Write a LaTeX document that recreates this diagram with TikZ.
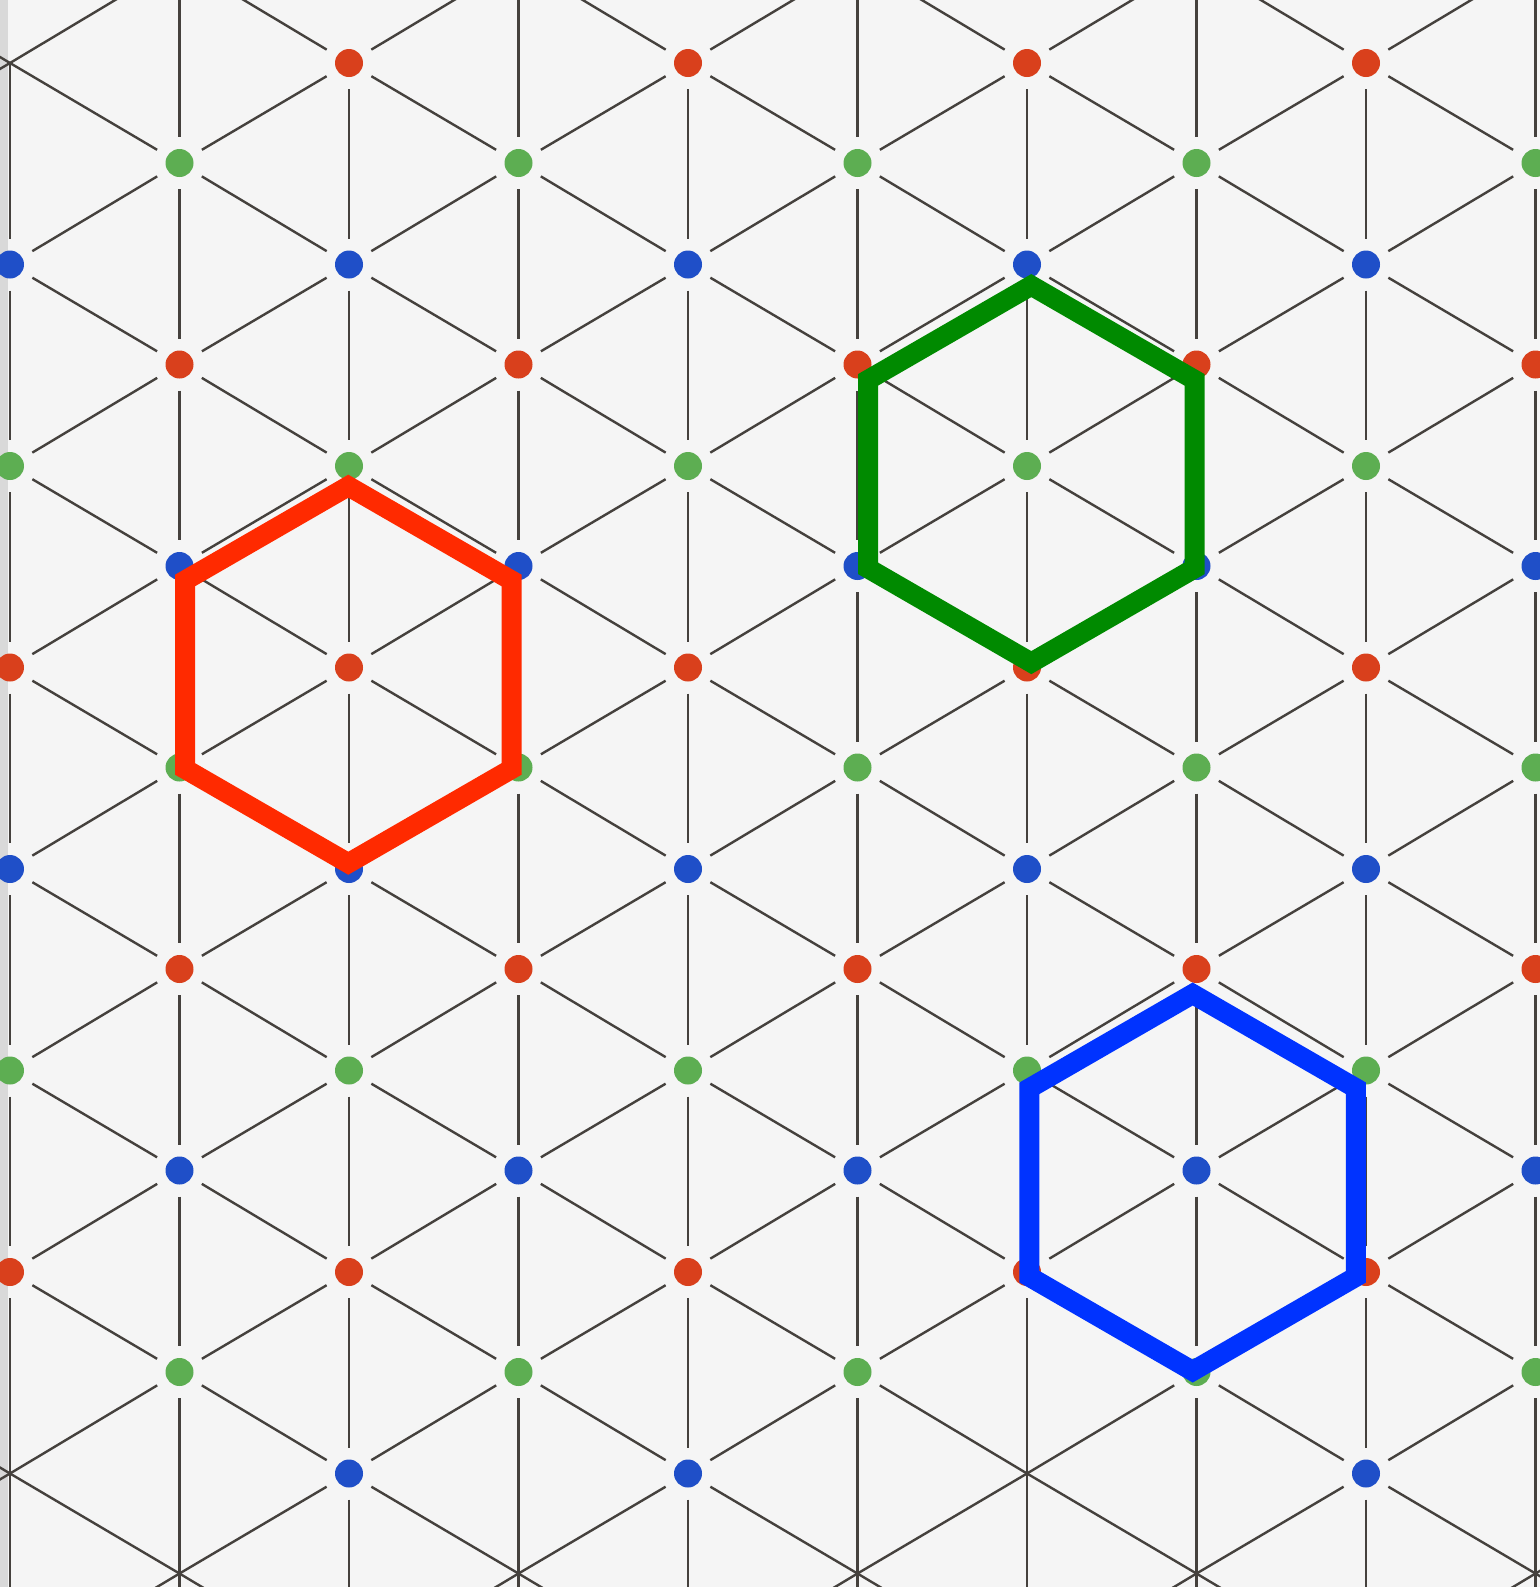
\documentclass[tikz,border=0pt]{standalone}
\usepackage{xcolor}
\usepackage{tikz}
\definecolor{paper}{HTML}{F5F5F5}
\definecolor{dot0}{HTML}{D9401C}
\definecolor{dot1}{HTML}{1F4FC8}
\definecolor{dot2}{HTML}{5DAE52}
\definecolor{latline}{HTML}{45413D}
\definecolor{hexred}{HTML}{FF2A00}
\definecolor{hexgreen}{HTML}{008A00}
\definecolor{hexblue}{HTML}{0033FF}

\begin{document}
\begin{tikzpicture}[x=0.5pt, y=-0.5pt,
        pt/.style={circle,inner sep=0pt,minimum size=14pt,outer sep=6pt},
        gone/.style={shape=coordinate},
        lat/.style={line width=1.2pt,latline},
        hexa/.style={line width=10pt,line join=miter}]
        \useasboundingbox (0,0) rectangle (1540,1587);
        \fill[paper] (0,0) rectangle (1540,1587);
        \fill[black!15] (0,0) rectangle (8,1587);
        \clip (0,0) rectangle (1540,1587);
        \foreach \c in {0,...,11}{
            \foreach \r in {0,...,10}{
                \pgfmathsetmacro{\px}{-159.5+169.5*\c}
                \pgfmathsetmacro{\py}{-138.5+201.5*\r+100*(1-mod(\c,2))}
                \pgfmathtruncatemacro{\m}{mod(\r+1+mod(\c,2),3)}
                \pgfmathtruncatemacro{\h}{(\c==1 && (\r==1 || \r==8)) || (\c==7 && \r==8) || (mod(\c,2)==0 && \r>7)}
                \ifnum\h=1
                    \node[gone] (p-\c-\r) at (\px,\py) {};
                \else
                    \node[pt,fill=dot\m] (p-\c-\r) at (\px,\py) {};
                \fi
            }
        }
        \foreach \c in {0,...,10}{
            \pgfmathtruncatemacro{\cn}{\c+1}
            \foreach \r in {0,...,9}{
                \pgfmathtruncatemacro{\rn}{\r+1}
                \pgfmathtruncatemacro{\sk}{\r==0 && mod(\c,2)==1}
                \ifnum\sk=0
                    \draw[lat] (p-\c-\r) -- (p-\c-\rn);
                \fi
                \draw[lat] (p-\c-\r) -- (p-\cn-\r);
                \ifodd\c\relax
                    \draw[lat] (p-\c-\rn) -- (p-\cn-\r);
                \else
                    \draw[lat] (p-\c-\r) -- (p-\cn-\rn);
                \fi
            }
        }
        \foreach \hx/\hy/\hc in {348.3/674.7/hexred, 1031.3/474.1/hexgreen, 1192.7/1182.5/hexblue}
            {\draw[hexa,\hc,shift={(\hx,\hy)}] (90:188.5) -- (30:188.5) -- (-30:188.5) -- (-90:188.5) -- (-150:188.5) -- (150:188.5) -- cycle;}
    \end{tikzpicture}
\end{document}
